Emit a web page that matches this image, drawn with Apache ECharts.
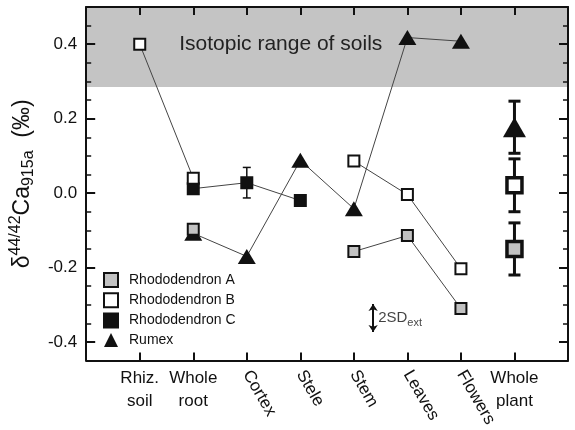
<!DOCTYPE html>
<html>
<head>
<meta charset="utf-8">
<script src="https://cdn.jsdelivr.net/npm/echarts@6/dist/echarts.min.js"></script>
<style>
  html, body { margin: 0; padding: 0; background: #fff; }
  #chart { width: 575px; height: 430px; }
</style>
</head>
<body>
<div id="chart"></div>
<script>
  // categories on the x axis (positions 1..8)
  var categories = ['Rhiz.\nsoil', 'Whole\nroot', 'Cortex', 'Stele', 'Stem', 'Leaves', 'Flowers', 'Whole\nplant'];
  var flatLabels = [1, 2, 8];
  var slantLabels = [3, 4, 5, 6, 7];

  // delta 44/42 Ca values per category (null = no sample)
  var rhodoA = [null, -0.097, null, null, -0.157, -0.114, -0.31, null];
  var rhodoB = [0.40, 0.040, null, null, 0.086, -0.004, -0.203, null];
  var rhodoC = [null, 0.012, 0.028, -0.02, null, null, null, null];
  var rumex = [null, -0.108, -0.17, 0.088, -0.042, 0.418, 0.408, null];

  // whole plant means (A, B, Rumex) and their error
  var wholePlantMean = [-0.15, 0.021, 0.177];
  var wholePlantErr = [0.07, 0.071, 0.07];
  var cortexCErr = 0.041;

  var soilRange = [0.285, 0.5];
  var sdArrow = [5.36, -0.373, -0.298]; // x, low, high
  var yTicks = [-0.4, -0.2, 0, 0.2, 0.4];

  var font = 'Liberation Sans, Arial, sans-serif';
  var ink = '#111';

  function pairs(arr) {
    return arr.map(function (v, i) { return [i + 1, v === null ? '-' : v]; });
  }

  function errBar(capHalf, width) {
    return function (params, api) {
      var x = api.value(0);
      var top = api.coord([x, api.value(2)]);
      var bot = api.coord([x, api.value(1)]);
      var st = { stroke: ink, lineWidth: width };
      return {
        type: 'group',
        children: [
          { type: 'line', shape: { x1: top[0], y1: top[1], x2: bot[0], y2: bot[1] }, style: st },
          { type: 'line', shape: { x1: top[0] - capHalf, y1: top[1], x2: top[0] + capHalf, y2: top[1] }, style: st },
          { type: 'line', shape: { x1: bot[0] - capHalf, y1: bot[1], x2: bot[0] + capHalf, y2: bot[1] }, style: st }
        ]
      };
    };
  }

  var chart = echarts.init(document.getElementById('chart'));

  var xBase = { type: 'value', min: 0, max: 9, interval: 1, splitLine: { show: false }, z: 5 };
  var yBase = { type: 'value', min: -0.45, max: 0.5, interval: 0.05, splitLine: { show: false }, z: 5 };
  var axLine = { show: true, onZero: false, lineStyle: { color: ink, width: 2 } };
  var noLine = { show: false, onZero: false };
  var catTicks = [1, 2, 3, 4, 5, 6, 7, 8];

  var option = {
    animation: false,
    textStyle: { fontFamily: font },
    grid: { left: 86, right: 7, top: 7, bottom: 68 },
    legend: {
      orient: 'vertical', left: 103, top: 272, padding: 0,
      itemWidth: 14, itemHeight: 14, itemGap: 4.3,
      textStyle: { fontSize: 14, color: ink, padding: [0, 0, 0, 6] },
      data: [
        { name: 'Rhododendron A', icon: 'rect' },
        { name: 'Rhododendron B', icon: 'rect' },
        { name: 'Rhododendron C', icon: 'rect' },
        { name: 'Rumex', icon: 'triangle' }
      ]
    },
    xAxis: [
      Object.assign({}, xBase, {
        position: 'bottom', axisLine: axLine,
        axisTick: { show: true, inside: true, length: 8, customValues: catTicks, lineStyle: { color: ink, width: 2 } },
        axisLabel: { customValues: flatLabels, fontSize: 17, color: ink, lineHeight: 23, margin: 6,
          formatter: function (v) { return categories[v - 1]; } }
      }),
      Object.assign({}, xBase, {
        position: 'bottom', axisLine: noLine, axisTick: { show: false },
        axisLabel: { customValues: slantLabels, rotate: -60, fontSize: 17, color: ink, margin: 11,
          formatter: function (v) { return categories[v - 1]; } }
      }),
      Object.assign({}, xBase, {
        position: 'top', axisLine: axLine,
        axisTick: { show: true, inside: true, length: 8, customValues: catTicks, lineStyle: { color: ink, width: 2 } },
        axisLabel: { show: false }
      })
    ],
    yAxis: [
      Object.assign({}, yBase, {
        position: 'left', axisLine: axLine,
        axisTick: { show: true, inside: true, length: 9, customValues: yTicks, lineStyle: { color: ink, width: 2 } },
        axisLabel: { customValues: yTicks, fontSize: 17, color: ink, margin: 9,
          formatter: function (v) { return v.toFixed(1); } },
        name: '{m|δ}{sup|44/42}{m|Ca}{sub|915a}{m|  (‰)}',
        nameLocation: 'middle', nameRotate: 90, nameGap: 46,
        nameTextStyle: {
          color: ink,
          rich: {
            m: { fontSize: 23, color: ink, fontFamily: font },
            sup: { fontSize: 16, color: ink, fontFamily: font, padding: [0, 0, 14, 0] },
            sub: { fontSize: 16, color: ink, fontFamily: font, padding: [12, 0, 0, 0] }
          }
        }
      }),
      Object.assign({}, yBase, {
        position: 'left', axisLine: noLine,
        axisTick: { show: true, inside: true, length: 5, lineStyle: { color: ink, width: 1.5 } },
        axisLabel: { show: false }
      }),
      Object.assign({}, yBase, {
        position: 'right', axisLine: axLine,
        axisTick: { show: true, inside: true, length: 9, customValues: yTicks, lineStyle: { color: ink, width: 2 } },
        axisLabel: { show: false }
      }),
      Object.assign({}, yBase, {
        position: 'right', axisLine: noLine,
        axisTick: { show: true, inside: true, length: 5, lineStyle: { color: ink, width: 1.5 } },
        axisLabel: { show: false }
      })
    ],
    series: [
      {
        type: 'custom', silent: true,
        renderItem: errBar(4, 1.5),
        data: [[3, rhodoC[2] - cortexCErr, rhodoC[2] + cortexCErr]]
      },
      {
        type: 'custom', silent: true,
        renderItem: errBar(6, 3),
        data: wholePlantMean.map(function (m, i) { return [8, m - wholePlantErr[i], m + wholePlantErr[i]]; })
      },
      {
        name: 'Rumex', type: 'line', data: pairs(rumex), silent: true,
        symbol: 'triangle', symbolSize: [18, 15],
        itemStyle: { color: ink, borderColor: ink, borderWidth: 0 },
        lineStyle: { color: '#444', width: 1 }
      },
      {
        name: 'Rhododendron C', type: 'line', data: pairs(rhodoC), silent: true,
        symbol: 'rect', symbolSize: 11,
        itemStyle: { color: ink, borderColor: ink, borderWidth: 2 },
        lineStyle: { color: '#444', width: 1 }
      },
      {
        name: 'Rhododendron B', type: 'line', data: pairs(rhodoB), silent: true,
        symbol: 'rect', symbolSize: 11,
        itemStyle: { color: '#fff', borderColor: ink, borderWidth: 2 },
        lineStyle: { color: '#444', width: 1 }
      },
      {
        name: 'Rhododendron A', type: 'line', data: pairs(rhodoA), silent: true,
        symbol: 'rect', symbolSize: 11,
        itemStyle: { color: '#c2c2c2', borderColor: ink, borderWidth: 2 },
        lineStyle: { color: '#444', width: 1 },
        markArea: {
          silent: true,
          itemStyle: { color: '#c4c4c4' },
          label: { show: true, position: [93, 27], fontSize: 21, color: '#222', fontFamily: font },
          data: [[
            { name: 'Isotopic range of soils', xAxis: 0, yAxis: soilRange[0] },
            { xAxis: 9, yAxis: soilRange[1] }
          ]]
        }
      },
      {
        type: 'scatter', silent: true,
        itemStyle: { opacity: 1 },
        data: [
          { value: [8, wholePlantMean[0]], symbol: 'rect', symbolSize: 15, itemStyle: { color: '#c2c2c2', borderColor: ink, borderWidth: 3.5, opacity: 1 } },
          { value: [8, wholePlantMean[1]], symbol: 'rect', symbolSize: 15, itemStyle: { color: '#fff', borderColor: ink, borderWidth: 3.5, opacity: 1 } },
          { value: [8, wholePlantMean[2]], symbol: 'triangle', symbolSize: [23, 20], itemStyle: { color: ink, opacity: 1 } }
        ]
      },
      {
        type: 'lines', coordinateSystem: 'cartesian2d', silent: true,
        symbol: ['arrow', 'arrow'], symbolSize: 7,
        lineStyle: { color: ink, width: 2, opacity: 1 },
        data: [{ coords: [[sdArrow[0], sdArrow[2]], [sdArrow[0], sdArrow[1]]] }]
      },
      {
        type: 'scatter', silent: true, symbolSize: 0,
        data: [[sdArrow[0], (sdArrow[1] + sdArrow[2]) / 2]],
        label: {
          show: true, position: 'right', distance: 5,
          formatter: '{a|2SD}{b|ext}',
          rich: {
            a: { fontSize: 15, color: ink, fontFamily: font },
            b: { fontSize: 11, color: ink, fontFamily: font, padding: [9, 0, 0, 0] }
          }
        }
      }
    ]
  };

  chart.setOption(option);
</script>
</body>
</html>
